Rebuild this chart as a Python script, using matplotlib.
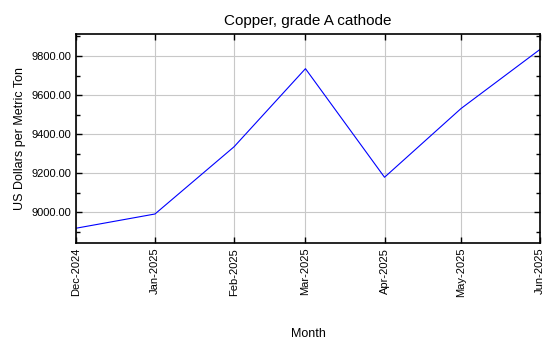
import matplotlib
matplotlib.use("Agg")
import matplotlib.pyplot as plt
import matplotlib.dates as mdates
from matplotlib.ticker import MultipleLocator, FormatStrFormatter
import datetime as dt

plt.rcParams['font.family'] = ['Liberation Sans', 'DejaVu Sans']

months = ["Dec-2024", "Jan-2025", "Feb-2025", "Mar-2025", "Apr-2025", "May-2025", "Jun-2025"]
dates = [dt.date(2024, 12, 1), dt.date(2025, 1, 1), dt.date(2025, 2, 1), dt.date(2025, 3, 1),
         dt.date(2025, 4, 1), dt.date(2025, 5, 1), dt.date(2025, 6, 1)]
prices = [8918, 8991, 9335, 9735, 9179, 9531, 9834]

fig = plt.figure(figsize=(5.5, 3.5), dpi=100)
ax = fig.add_axes([0.138, 0.306, 0.844, 0.596])
ax.plot(dates, prices, color='#0000ff', lw=0.8)

ax.set_xlim(dates[0], dates[-1])
ax.set_ylim(8843, 9911)
ax.set_xticks(dates)
ax.set_xticklabels(months, rotation=90, fontsize=8)
ax.yaxis.set_major_locator(MultipleLocator(200))
ax.yaxis.set_minor_locator(MultipleLocator(100))
ax.yaxis.set_major_formatter(FormatStrFormatter('%.2f'))
ax.tick_params(axis='y', labelsize=8)
ax.tick_params(which='both', direction='in', top=True, right=True, width=1)
ax.tick_params(which='major', length=4)
ax.tick_params(which='minor', length=3)
ax.grid(True, which='major', color='#c8c8c8', lw=0.8)
for s in ax.spines.values():
    s.set_linewidth(1.2)

ax.set_title("Copper, grade A cathode", fontsize=11, pad=7)
ax.set_ylabel("US Dollars per Metric Ton", fontsize=9)
ax.set_xlabel("Month", fontsize=9, labelpad=22)

fig.savefig("out.png", dpi=100)
